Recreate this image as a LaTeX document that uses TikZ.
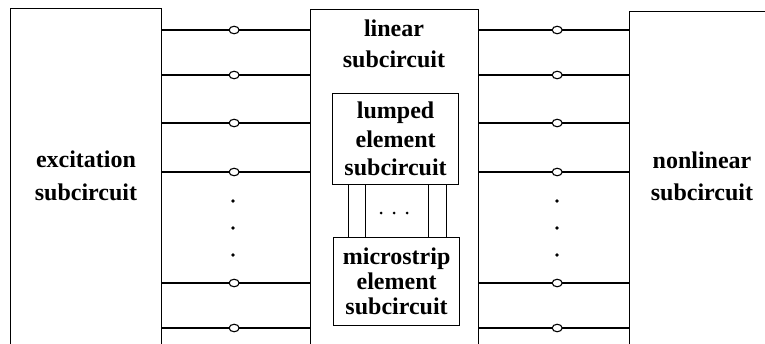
\documentclass[tikz,border=0pt]{standalone}
\usepackage{fontspec}
\setmainfont{Liberation Serif}
\usetikzlibrary{calc,positioning,shapes.geometric}

\begin{document}
\begin{tikzpicture}[x=1pt, y=-1pt,
      block/.style={rectangle, draw=black, line width=1.4pt, anchor=north west, inner sep=0pt},
      sub/.style={rectangle, draw=black, line width=1.2pt, anchor=north west, inner sep=0pt, align=center, minimum width=126pt},
      txt/.style={align=center, inner sep=0pt},
      wire/.style={line width=1.2pt},
      port/.style={ellipse, draw=black, fill=white, line width=1.1pt, minimum width=10pt, minimum height=7.5pt, inner sep=0pt},
      vdot/.style={circle, fill=black, minimum size=3.6pt, inner sep=0pt}
    ]
      \clip (0,0) rectangle (765,343);

      % Outer subcircuits (open towards the page edge)
      \node[block, minimum width=151pt, minimum height=380pt] (exc) at (10,8) {};
      \node[block, minimum width=168pt, minimum height=380pt] (lin) at (310,9) {};
      \node[block, minimum width=220pt, minimum height=380pt] (nonlin) at (629,11) {};

      \node[txt, font=\bfseries\fontsize{24}{33}\selectfont] (exctxt) at (86,176) {excitation\\subcircuit};
      \node[txt, font=\bfseries\fontsize{24}{31}\selectfont] (lintxt) at (394,44) {linear\\subcircuit};
      \node[txt, font=\bfseries\fontsize{24}{32}\selectfont] (nonlintxt) at (702,176) {nonlinear\\subcircuit};

      % Inner blocks of the linear part
      \node[sub, minimum height=91pt, font=\bfseries\fontsize{24}{28.5}\selectfont] (lumped) at (332,93) {lumped\\element\\subcircuit};
      \node[sub, minimum height=88pt, font=\bfseries\fontsize{24}{25}\selectfont] (micro) at (333,237) {microstrip\\element\\subcircuit};

      \foreach \x in {348,365,428,446}
        \draw[wire, line width=1pt] (lumped.south -| \x,0) -- (micro.north -| \x,0);
      \foreach \x [count=\i] in {381,394,407}
        \node[vdot, minimum size=3pt] (mdot\i) at (\x,213) {};

      % Ports between the subcircuits
      \foreach \y [count=\i] in {30,75,123,172,283,328} {
        \draw[wire] (exc.east |- 0,\y) -- (lin.west |- 0,\y) node[port, pos=0.486] (lport\i) {};
        \draw[wire] (lin.east |- 0,\y) -- (nonlin.west |- 0,\y) node[port, pos=0.52] (rport\i) {};
      }
      \foreach \y [count=\i] in {201,228,255} {
        \node[vdot] (ldot\i) at (233,\y) {};
        \node[vdot] (rdot\i) at (557,\y) {};
      }
    \end{tikzpicture}
\end{document}
